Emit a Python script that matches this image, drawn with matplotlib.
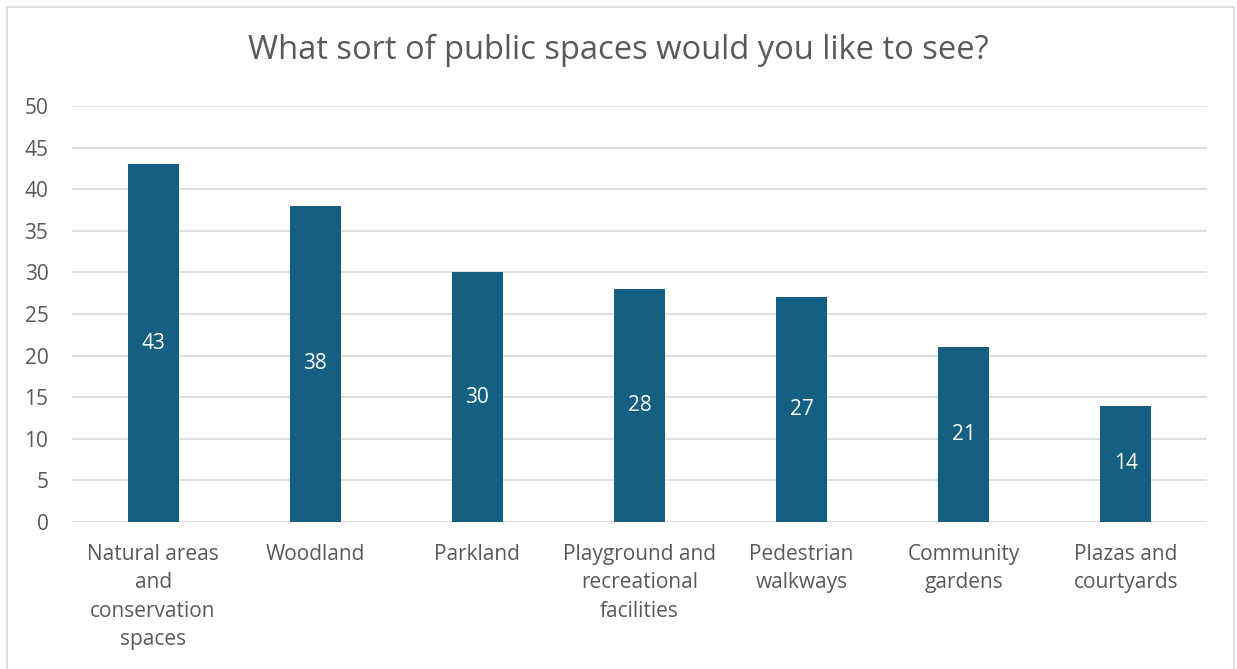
import numpy as np
import matplotlib.pyplot as plt
from matplotlib.patches import Rectangle

# survey answers
categories = ['Natural areas\nand\nconservation\nspaces', 'Woodland', 'Parkland',
              'Playground and\nrecreational\nfacilities', 'Pedestrian\nwalkways',
              'Community\ngardens', 'Plazas and\ncourtyards']
counts = [43, 38, 30, 28, 27, 21, 14]
yticks = [0, 5, 10, 15, 20, 25, 30, 35, 40, 45, 50]

plt.rcParams['font.family'] = ['Open Sans', 'DejaVu Sans']
txt = '#595959'
barcol = '#156082'

fig = plt.figure(figsize=(12.37, 6.69), dpi=100)
ax = fig.add_axes([72/1237, 147/669, 1135/1237, 416/669])

x = np.arange(len(categories))
bars = ax.bar(x, counts, width=0.315, color=barcol, zorder=3)
for xi, v in zip(x, counts):
    ax.text(xi, v/2, str(v), ha='center', va='center', color='white', fontsize=15, zorder=4)

ax.set_xlim(-0.5, len(categories)-0.5)
ax.set_ylim(0, 50)
ax.set_yticks(yticks)
ax.set_xticks(x)
ax.set_xticklabels(categories, linespacing=1.45)
ax.tick_params(axis='both', length=0, colors=txt, labelsize=15)
ax.tick_params(axis='x', pad=16)
ax.tick_params(axis='y', pad=17)
ax.grid(axis='y', color='#d9d9d9', lw=1.2, zorder=0)
for s in ax.spines.values():
    s.set_visible(False)

fig.text(0.5, 1-50/669, 'What sort of public spaces would you like to see?',
         ha='center', va='center', color=txt, fontsize=23.5)

# outer chart frame
fig.patches.append(Rectangle((7/1237, -0.05), 1227/1237, 1.05-7/669, transform=fig.transFigure,
                             fill=False, ec='#d9d9d9', lw=1.2))

fig.savefig('out.png', dpi=100)
